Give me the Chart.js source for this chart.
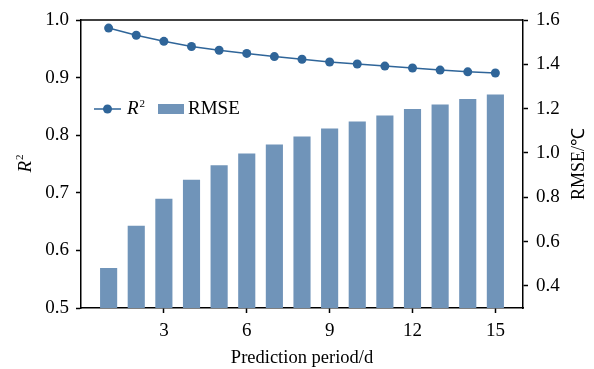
<!DOCTYPE html>
<html>
<head>
<meta charset="utf-8">
<script src="https://cdn.jsdelivr.net/npm/chart.js@4/dist/chart.umd.min.js"></script>
<style>
  html, body { margin: 0; padding: 0; background: #fff; }
  #wrap { width: 594px; height: 369px; }
</style>
</head>
<body>
<div id="wrap"><canvas id="myChart" width="594" height="369"></canvas></div>
<script>
// data
const days = [1, 2, 3, 4, 5, 6, 7, 8, 9, 10, 11, 12, 13, 14, 15]
const r2 = [0.986, 0.9735, 0.963, 0.954, 0.9475, 0.942, 0.9365, 0.9318, 0.927, 0.9237, 0.920, 0.9167, 0.913, 0.910, 0.908]
const rmse = [0.481, 0.671, 0.793, 0.879, 0.944, 0.997, 1.038, 1.074, 1.110, 1.142, 1.169, 1.198, 1.219, 1.243, 1.264]
const xTicks = [3, 6, 9, 12, 15]
const r2Ticks = [0.5, 0.6, 0.7, 0.8, 0.9, 1.0]
const rmseTicks = [0.4, 0.6, 0.8, 1.0, 1.2, 1.4, 1.6]

const lineColor = '#2f6599'
const barColor = '#7094b9'
const serif = 'Liberation Serif'

// frame top line, axis titles and the legend
const extras = {
  id: 'extras',
  afterDraw(chart) {
    const ctx = chart.ctx
    const a = chart.chartArea
    ctx.save()
    ctx.strokeStyle = '#000'
    ctx.lineWidth = 1.5
    ctx.beginPath()
    ctx.moveTo(a.left, a.top)
    ctx.lineTo(a.right, a.top)
    ctx.stroke()

    ctx.fillStyle = '#000'
    ctx.textBaseline = 'middle'
    // left title R^2
    ctx.save()
    ctx.translate(26, (a.top + a.bottom) / 2)
    ctx.rotate(-Math.PI / 2)
    ctx.textAlign = 'left'
    ctx.font = 'italic 19px ' + serif
    const rw = ctx.measureText('R').width
    ctx.font = '11px ' + serif
    const sw = ctx.measureText('2').width
    let x0 = -(rw + sw) / 2
    ctx.font = 'italic 19px ' + serif
    ctx.fillText('R', x0, 0)
    ctx.font = '11px ' + serif
    ctx.fillText('2', x0 + rw + 1, -6)
    ctx.restore()

    // right title
    ctx.save()
    ctx.translate(579, (a.top + a.bottom) / 2)
    ctx.rotate(-Math.PI / 2)
    ctx.textAlign = 'center'
    ctx.font = '18px ' + serif
    ctx.fillText('RMSE/\u2103', 0, 0)
    ctx.restore()

    // legend
    const ly = 109
    const ds0 = chart.data.datasets[0]
    const ds1 = chart.data.datasets[1]
    ctx.strokeStyle = ds0.borderColor
    ctx.lineWidth = 1.5
    ctx.beginPath()
    ctx.moveTo(94, ly)
    ctx.lineTo(121, ly)
    ctx.stroke()
    ctx.fillStyle = ds0.pointBackgroundColor
    ctx.beginPath()
    ctx.arc(107.5, ly, 4.5, 0, Math.PI * 2)
    ctx.fill()
    ctx.fillStyle = '#000'
    ctx.textAlign = 'left'
    ctx.font = 'italic 19px ' + serif
    ctx.fillText('R', 127, ly)
    const w = ctx.measureText('R').width
    ctx.font = '11px ' + serif
    ctx.fillText('2', 127 + w + 1, ly - 5)
    ctx.fillStyle = ds1.backgroundColor
    ctx.fillRect(158, ly - 5, 26, 10)
    ctx.fillStyle = '#000'
    ctx.font = '19px ' + serif
    ctx.fillText(ds1.label, 188, ly)
    ctx.restore()
  }
}

const ctx = document.getElementById('myChart').getContext('2d')
const myChart = new Chart(ctx, {
  type: 'bar',
  data: {
    datasets: [
      {
        type: 'line',
        label: 'R\u00b2',
        data: days.map((d, i) => ({ x: d, y: r2[i] })),
        yAxisID: 'y',
        borderColor: lineColor,
        backgroundColor: lineColor,
        pointBackgroundColor: lineColor,
        pointBorderWidth: 0,
        pointRadius: 4.5,
        borderWidth: 1.5,
        order: 0,
      },
      {
        type: 'bar',
        label: 'RMSE',
        data: days.map((d, i) => ({ x: d, y: rmse[i] })),
        yAxisID: 'y1',
        backgroundColor: barColor,
        barPercentage: 0.62,
        categoryPercentage: 1,
        order: 1,
      },
    ],
  },
  options: {
    responsive: false,
    animation: false,
    layout: { padding: { top: 20, left: 0, right: 0, bottom: 0 } },
    plugins: { legend: { display: false }, tooltip: { enabled: false } },
    scales: {
      x: {
        type: 'linear',
        min: 0,
        max: 16,
        offset: false,
        afterBuildTicks: (s) => { s.ticks = xTicks.map(v => ({ value: v })) },
        afterFit: (s) => { s.height = 61 },
        grid: { display: true, offset: false, drawOnChartArea: false, drawTicks: true, tickLength: 5, tickColor: '#000', tickWidth: 1.5 },
        border: { display: true, color: '#000', width: 1.5 },
        ticks: { color: '#000', font: { family: serif, size: 19 }, padding: 7, maxRotation: 0 },
        title: { display: true, text: 'Prediction period/d', color: '#000', font: { family: serif, size: 18.5 }, padding: { top: 1, bottom: 0 } },
      },
      y: {
        position: 'left',
        min: 0.5,
        max: 1.0,
        afterBuildTicks: (s) => { s.ticks = r2Ticks.map(v => ({ value: v })) },
        afterFit: (s) => { s.width = 81 },
        grid: { display: true, drawOnChartArea: false, drawTicks: true, tickLength: 5, tickColor: '#000', tickWidth: 1.5 },
        border: { display: true, color: '#000', width: 1.5 },
        ticks: { color: '#000', font: { family: serif, size: 19 }, padding: 7, callback: (v) => v.toFixed(1) },
      },
      y1: {
        position: 'right',
        min: 0.3,
        max: 1.6,
        afterBuildTicks: (s) => { s.ticks = rmseTicks.map(v => ({ value: v })) },
        afterFit: (s) => { s.width = 71 },
        grid: { display: true, drawOnChartArea: false, drawTicks: true, tickLength: 5, tickColor: '#000', tickWidth: 1.5 },
        border: { display: true, color: '#000', width: 1.5 },
        ticks: { color: '#000', font: { family: serif, size: 19 }, padding: 8, callback: (v) => v.toFixed(1) },
      },
    },
  },
  plugins: [extras],
})
</script>
</body>
</html>
